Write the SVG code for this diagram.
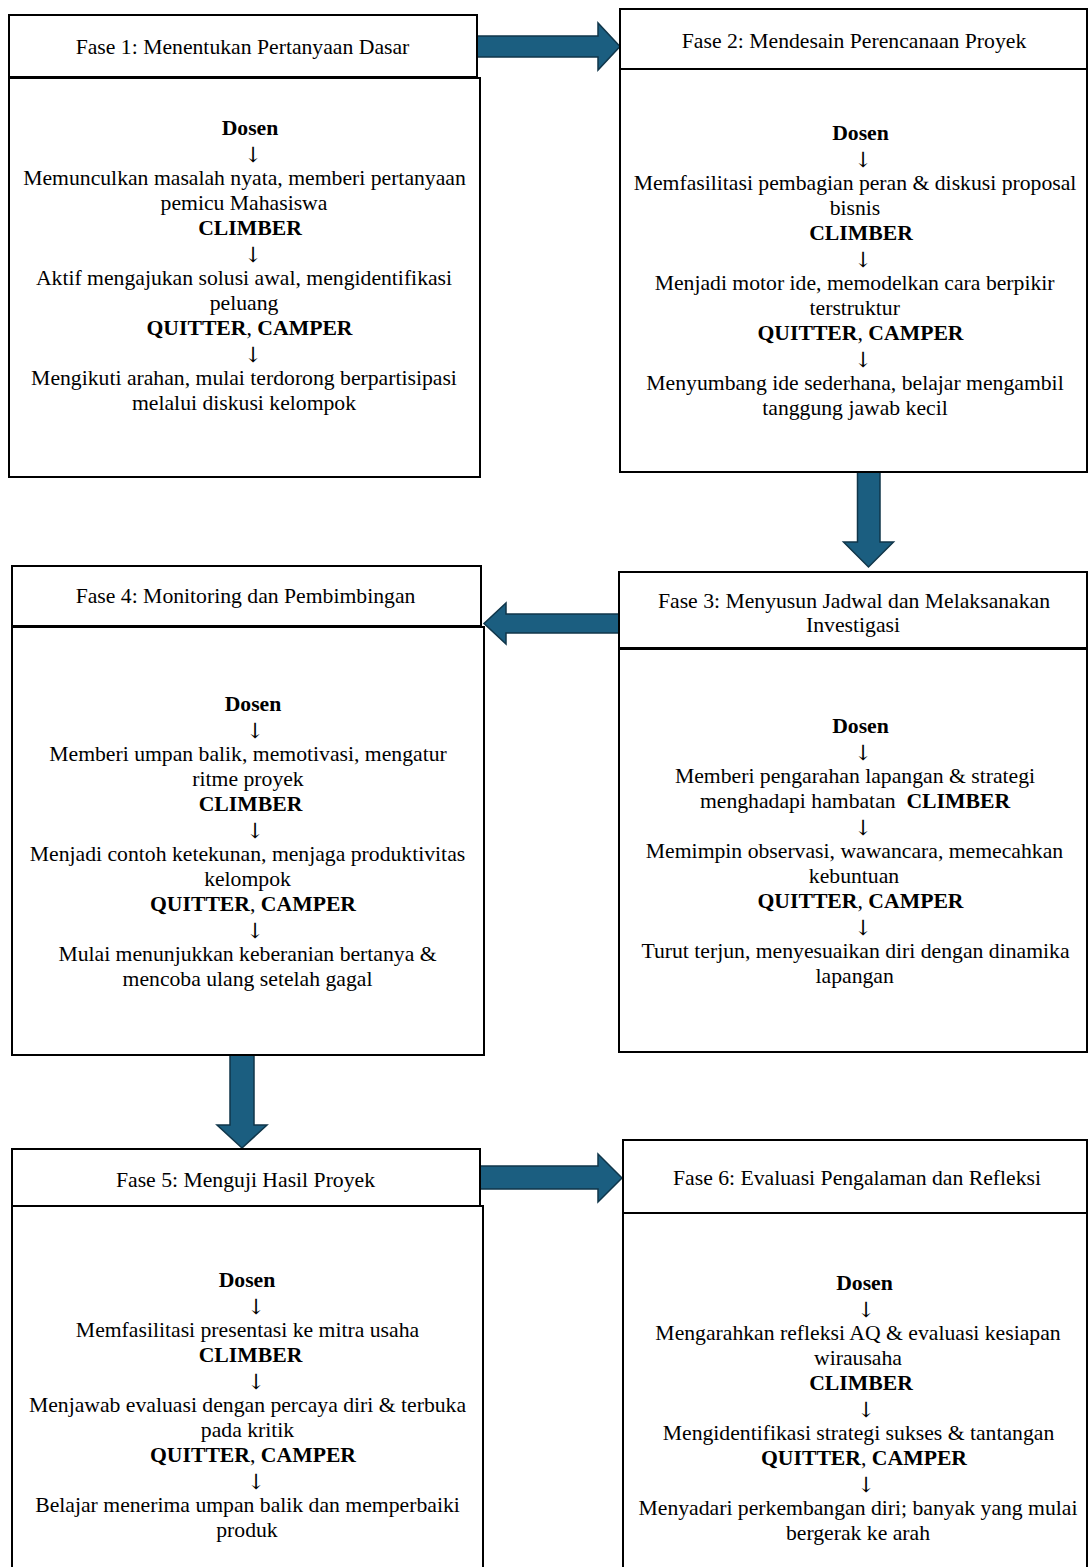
<svg xmlns="http://www.w3.org/2000/svg" width="1088" height="1567" viewBox="0 0 1088 1567">
<style>
  .box { fill: #ffffff; stroke: #000000; stroke-width: 2; }
  text { font-family: "Liberation Serif", "Times New Roman", serif; fill: #000; text-anchor: middle; }
  .hd { font-size: 21.7px; }
  .tx { font-size: 21.7px; }
  .ar { font-family: "DejaVu Serif", serif; font-size: 21px; }
  .b { font-weight: bold; }
  .arw { fill: #1b5e80; stroke: #10364a; stroke-width: 1.5; stroke-linejoin: miter; }
</style>
<rect x="0" y="0" width="1088" height="1567" fill="#ffffff"/>

<g id="connectors">
  <polygon class="arw" points="477,36 598,36 598,23 620,46.5 598,70 598,57 477,57"/>
  <polygon class="arw" points="857.5,472 880,472 880,542 893.5,542 868.5,567 843.5,542 857.5,542"/>
  <polygon class="arw" points="622,614 506,614 506,603 484,623.5 506,644 506,633 622,633"/>
  <polygon class="arw" points="230,1055 254,1055 254,1125 267,1125 242,1148 217,1125 230,1125"/>
  <polygon class="arw" points="478,1166 598,1166 598,1154 622,1178 598,1202 598,1189 478,1189"/>
</g>

<g id="fase1">
  <rect class="box" x="9" y="15" width="468" height="62"/>
  <rect class="box" x="9" y="78" width="471" height="399"/>
  <text class="hd" x="242.5" y="54">Fase 1: Menentukan Pertanyaan Dasar</text>
  <text class="tx b" x="250" y="135">Dosen</text>
  <text class="ar" x="253" y="162">↓</text>
  <text class="tx" x="244.5" y="185">Memunculkan masalah nyata, memberi pertanyaan</text>
  <text class="tx" x="244" y="210">pemicu Mahasiswa</text>
  <text class="tx b" x="250" y="235">CLIMBER</text>
  <text class="ar" x="253" y="262">↓</text>
  <text class="tx" x="244" y="285">Aktif mengajukan solusi awal, mengidentifikasi</text>
  <text class="tx" x="244" y="310">peluang</text>
  <text class="tx" x="249.5" y="335"><tspan class="b">QUITTER</tspan>, <tspan class="b">CAMPER</tspan></text>
  <text class="ar" x="253" y="362">↓</text>
  <text class="tx" x="244" y="385">Mengikuti arahan, mulai terdorong berpartisipasi</text>
  <text class="tx" x="244" y="410">melalui diskusi kelompok</text>
</g>

<g id="fase2">
  <rect class="box" x="620" y="9" width="467" height="60"/>
  <rect class="box" x="620" y="69" width="467" height="403"/>
  <text class="hd" x="854" y="48">Fase 2: Mendesain Perencanaan Proyek</text>
  <text class="tx b" x="860.5" y="140">Dosen</text>
  <text class="ar" x="863" y="167">↓</text>
  <text class="tx" x="855" y="190">Memfasilitasi pembagian peran &amp; diskusi proposal</text>
  <text class="tx" x="855" y="215">bisnis</text>
  <text class="tx b" x="861" y="240">CLIMBER</text>
  <text class="ar" x="863" y="267">↓</text>
  <text class="tx" x="854.6" y="290">Menjadi motor ide, memodelkan cara berpikir</text>
  <text class="tx" x="854.7" y="315">terstruktur</text>
  <text class="tx" x="860.5" y="340"><tspan class="b">QUITTER</tspan>, <tspan class="b">CAMPER</tspan></text>
  <text class="ar" x="863" y="367">↓</text>
  <text class="tx" x="855" y="390">Menyumbang ide sederhana, belajar mengambil</text>
  <text class="tx" x="855" y="415">tanggung jawab kecil</text>
</g>

<g id="fase3">
  <rect class="box" x="619" y="572" width="468" height="76"/>
  <rect class="box" x="619" y="649" width="468" height="403"/>
  <text class="hd" x="854" y="608">Fase 3: Menyusun Jadwal dan Melaksanakan</text>
  <text class="hd" x="853" y="632">Investigasi</text>
  <text class="tx b" x="860.5" y="733">Dosen</text>
  <text class="ar" x="863" y="760">↓</text>
  <text class="tx" x="855" y="783">Memberi pengarahan lapangan &amp; strategi</text>
  <text class="tx" x="855" y="808">menghadapi hambatan &#160;<tspan class="b">CLIMBER</tspan></text>
  <text class="ar" x="863" y="835">↓</text>
  <text class="tx" x="854.5" y="858">Memimpin observasi, wawancara, memecahkan</text>
  <text class="tx" x="854" y="883">kebuntuan</text>
  <text class="tx" x="860.5" y="908"><tspan class="b">QUITTER</tspan>, <tspan class="b">CAMPER</tspan></text>
  <text class="ar" x="863" y="935">↓</text>
  <text class="tx" x="855.5" y="958">Turut terjun, menyesuaikan diri dengan dinamika</text>
  <text class="tx" x="854.7" y="983">lapangan</text>
</g>

<g id="fase4">
  <rect class="box" x="12" y="566" width="469" height="60"/>
  <rect class="box" x="12" y="627" width="472" height="428"/>
  <text class="hd" x="245.5" y="603">Fase 4: Monitoring dan Pembimbingan</text>
  <text class="tx b" x="253" y="711">Dosen</text>
  <text class="ar" x="255" y="738">↓</text>
  <text class="tx" x="248" y="761">Memberi umpan balik, memotivasi, mengatur</text>
  <text class="tx" x="248" y="786">ritme proyek</text>
  <text class="tx b" x="250.5" y="811">CLIMBER</text>
  <text class="ar" x="255" y="838">↓</text>
  <text class="tx" x="247.5" y="861">Menjadi contoh ketekunan, menjaga produktivitas</text>
  <text class="tx" x="247.5" y="886">kelompok</text>
  <text class="tx" x="253" y="911"><tspan class="b">QUITTER</tspan>, <tspan class="b">CAMPER</tspan></text>
  <text class="ar" x="255" y="938">↓</text>
  <text class="tx" x="247.5" y="961">Mulai menunjukkan keberanian bertanya &amp;</text>
  <text class="tx" x="247.5" y="986">mencoba ulang setelah gagal</text>
</g>

<g id="fase5">
  <rect class="box" x="12" y="1149" width="468" height="57"/>
  <rect class="box" x="12" y="1206" width="471" height="370"/>
  <text class="hd" x="245.5" y="1187">Fase 5: Menguji Hasil Proyek</text>
  <text class="tx b" x="247" y="1287">Dosen</text>
  <text class="ar" x="256" y="1314">↓</text>
  <text class="tx" x="247.5" y="1337">Memfasilitasi presentasi ke mitra usaha</text>
  <text class="tx b" x="250.5" y="1362">CLIMBER</text>
  <text class="ar" x="256" y="1389">↓</text>
  <text class="tx" x="247.5" y="1412">Menjawab evaluasi dengan percaya diri &amp; terbuka</text>
  <text class="tx" x="247.5" y="1437">pada kritik</text>
  <text class="tx" x="253" y="1462"><tspan class="b">QUITTER</tspan>, <tspan class="b">CAMPER</tspan></text>
  <text class="ar" x="256" y="1489">↓</text>
  <text class="tx" x="247.5" y="1512">Belajar menerima umpan balik dan memperbaiki</text>
  <text class="tx" x="247" y="1537">produk</text>
</g>

<g id="fase6">
  <rect class="box" x="623" y="1140" width="464" height="73"/>
  <rect class="box" x="623" y="1213" width="464" height="363"/>
  <text class="hd" x="857" y="1185">Fase 6: Evaluasi Pengalaman dan Refleksi</text>
  <text class="tx b" x="864.5" y="1290">Dosen</text>
  <text class="ar" x="866" y="1317">↓</text>
  <text class="tx" x="858" y="1340">Mengarahkan refleksi AQ &amp; evaluasi kesiapan</text>
  <text class="tx" x="858" y="1365">wirausaha</text>
  <text class="tx b" x="861" y="1390">CLIMBER</text>
  <text class="ar" x="866" y="1417">↓</text>
  <text class="tx" x="858.5" y="1440">Mengidentifikasi strategi sukses &amp; tantangan</text>
  <text class="tx" x="864" y="1465"><tspan class="b">QUITTER</tspan>, <tspan class="b">CAMPER</tspan></text>
  <text class="ar" x="866" y="1492">↓</text>
  <text class="tx" x="858" y="1515">Menyadari perkembangan diri; banyak yang mulai</text>
  <text class="tx" x="858" y="1540">bergerak ke arah</text>
</g>
</svg>
